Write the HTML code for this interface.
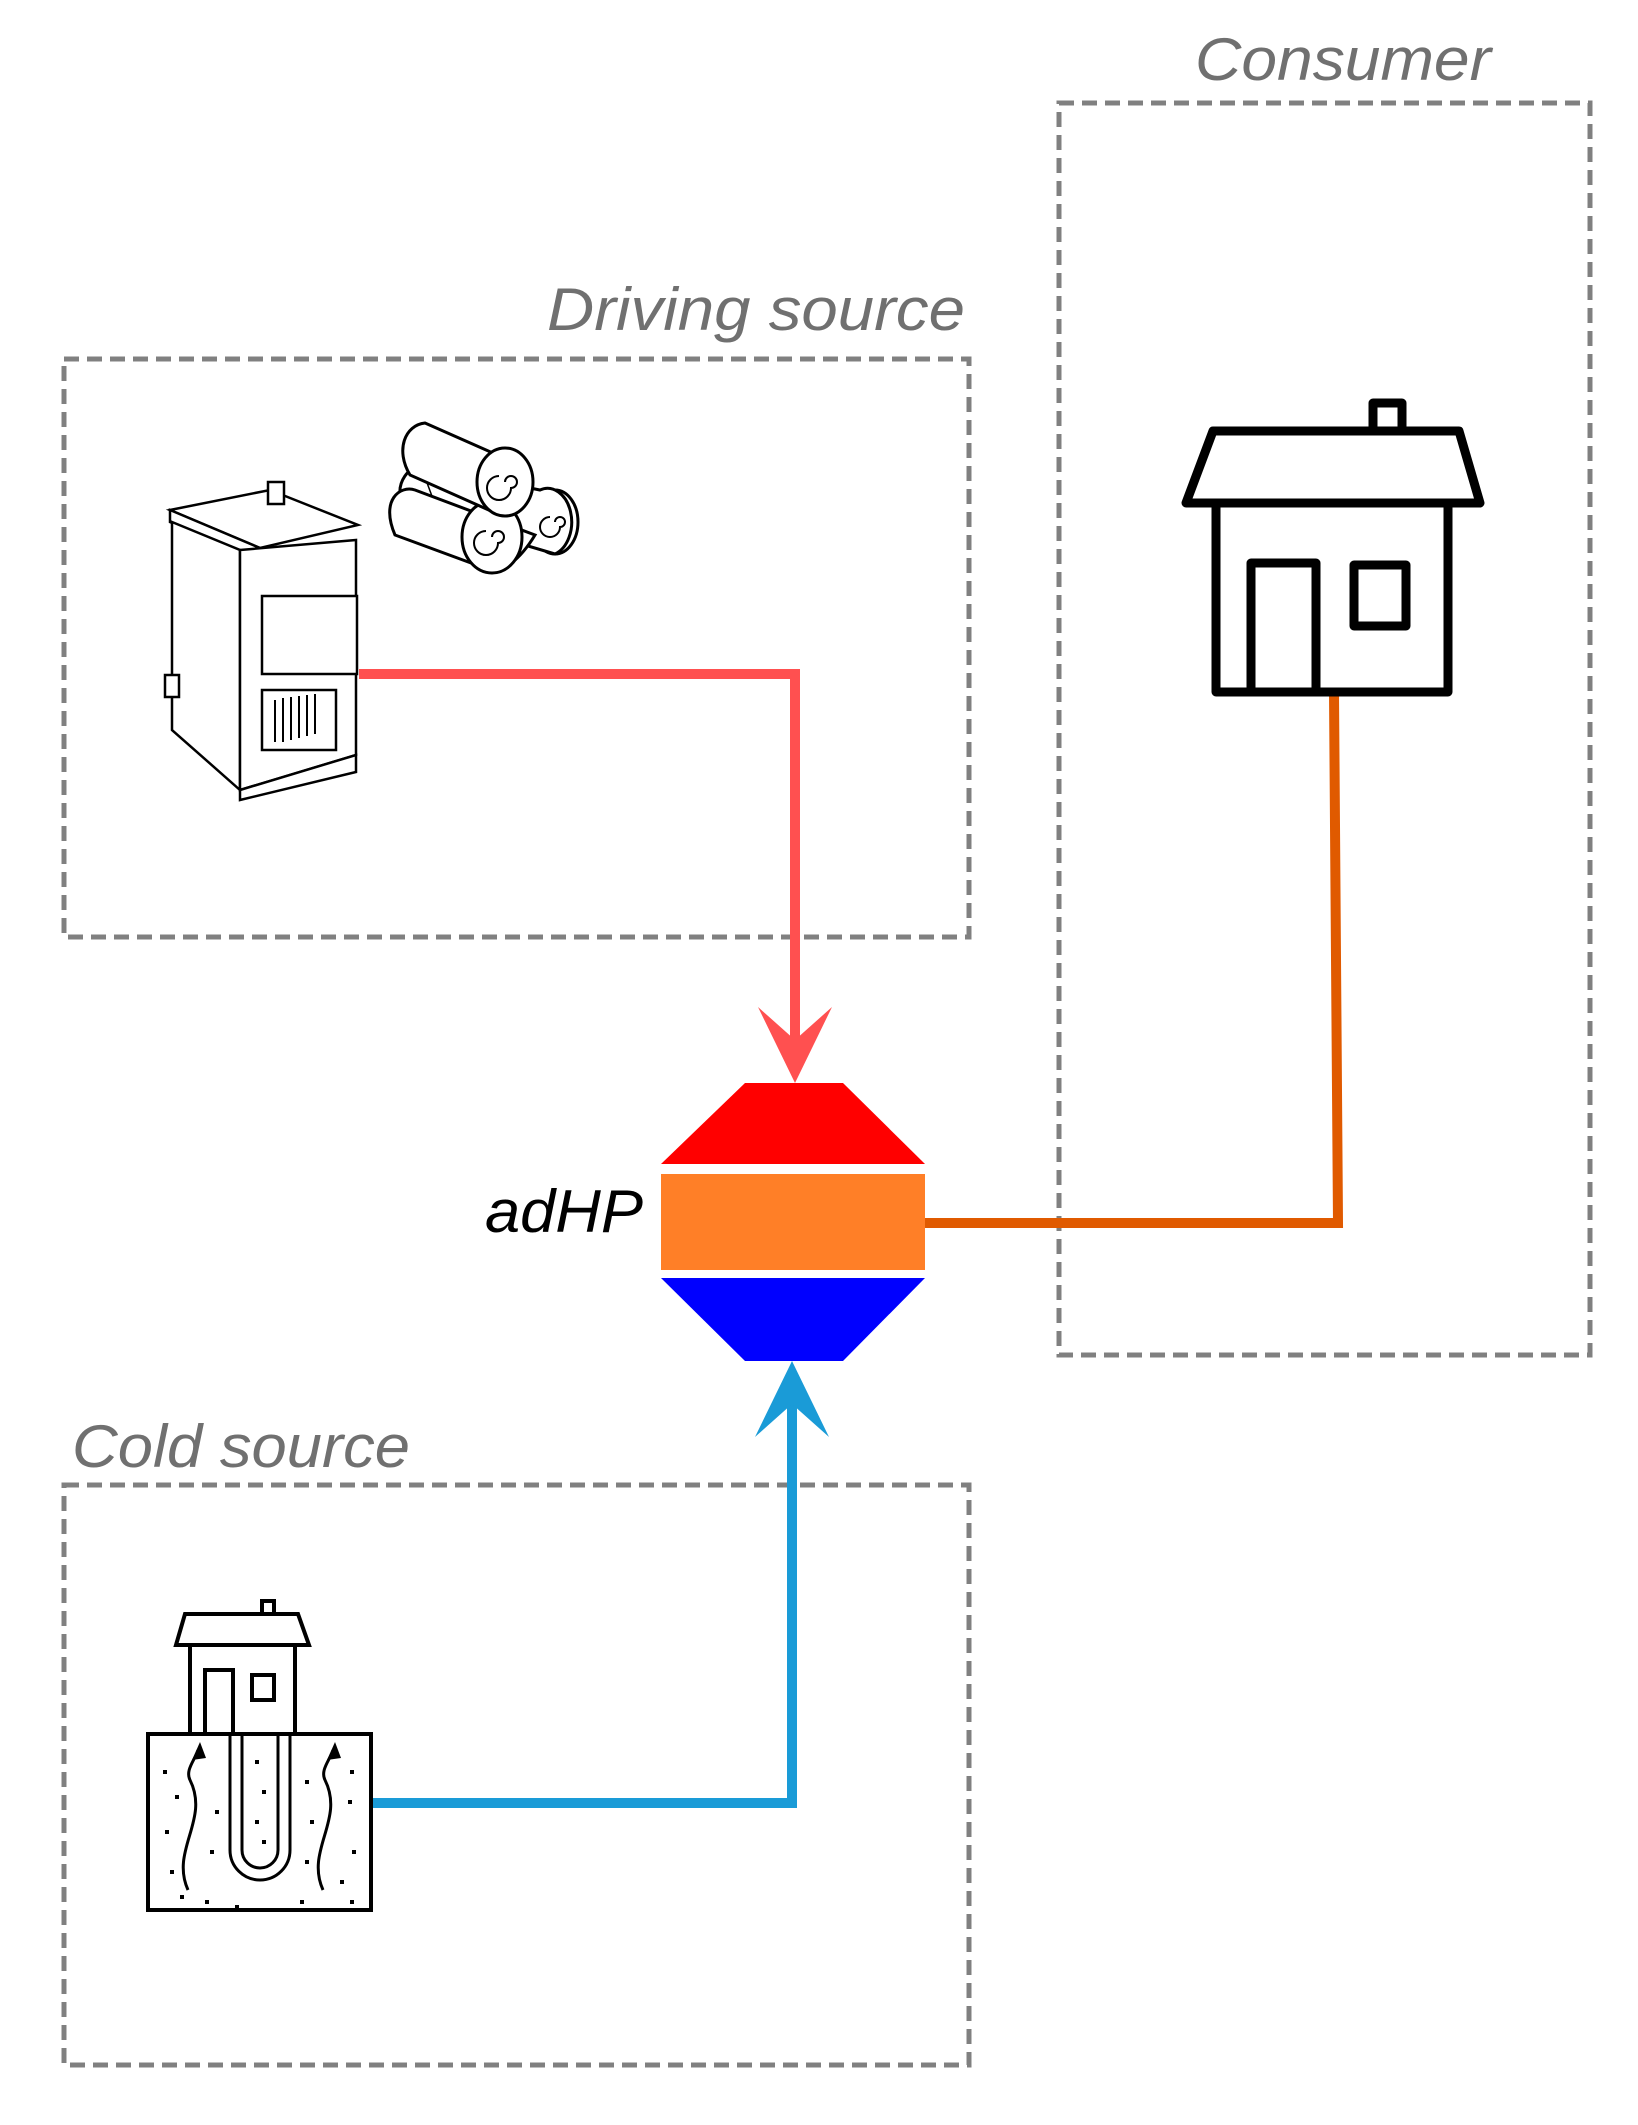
<!DOCTYPE html>
<html><head><meta charset="utf-8"><style>
html,body{margin:0;padding:0;background:#fff;}
</style></head><body>
<svg width="1638" height="2125" viewBox="0 0 1638 2125" xmlns="http://www.w3.org/2000/svg" style="display:block">
<g fill="none" stroke="#808080" stroke-width="5" stroke-dasharray="15,8">
<rect x="64" y="359" width="905" height="578"/>
<rect x="1059" y="103" width="531" height="1252"/>
<rect x="64" y="1485" width="905" height="580"/>
</g>
<g font-family="'Liberation Sans', 'DejaVu Sans', sans-serif" font-style="italic" fill="#707070" font-size="60">
<text x="1343" y="80" text-anchor="middle" textLength="296" lengthAdjust="spacingAndGlyphs">Consumer</text>
<text x="965" y="330" text-anchor="end" textLength="418" lengthAdjust="spacingAndGlyphs">Driving source</text>
<text x="72" y="1467" textLength="338" lengthAdjust="spacingAndGlyphs">Cold source</text>
</g>
<text x="485" y="1232" font-family="'Liberation Sans', sans-serif" font-style="italic" font-size="60" fill="#000" textLength="158" lengthAdjust="spacingAndGlyphs">adHP</text>
<polyline points="359,674 795,674 795,1040" fill="none" stroke="#ff5050" stroke-width="10"/>
<polygon points="795,1083 758,1007 795,1040 832,1007" fill="#ff5050"/>
<polyline points="925,1223 1338,1223 1334,693" fill="none" stroke="#e05a00" stroke-width="10"/>
<polyline points="372,1803 792,1803 792,1400" fill="none" stroke="#1a9bd7" stroke-width="10"/>
<polygon points="792,1361 755,1437 792,1404 829,1437" fill="#1a9bd7"/>
<polygon points="745,1083 843,1083 925,1164 661,1164" fill="#ff0000"/>
<rect x="661" y="1174" width="264" height="96" fill="#ff7f27"/>
<polygon points="661,1278 925,1278 843,1361 745,1361" fill="#0000ff"/>
<g fill="none" stroke="#000" stroke-width="9" stroke-linejoin="round">
<polygon points="1213,431 1459,431 1480,503 1186,503"/>
<rect x="1216" y="503" width="232" height="189"/>
<rect x="1251" y="563" width="65" height="129"/>
<rect x="1354" y="565" width="52" height="61"/>
<rect x="1373" y="403" width="29" height="28"/>
</g>
<g fill="#fff" stroke="#000" stroke-width="2.5">
<polygon points="170,510 270,490 358,525 260,548"/>
<polygon points="170,510 260,548 260,560 170,522"/>
<rect x="268" y="482" width="16" height="22"/>
<polygon points="172,522 240,550 240,790 172,730"/>
<polygon points="240,550 356,540 356,755 240,790"/>
<polygon points="240,790 356,755 356,772 240,800"/>
<rect x="262" y="596" width="95" height="78"/>
<rect x="262" y="690" width="74" height="60"/>
<rect x="165" y="675" width="14" height="22"/>
</g>
<g stroke="#000" stroke-width="2">
<line x1="275" y1="700" x2="275" y2="742"/><line x1="283" y1="698" x2="283" y2="742"/><line x1="291" y1="697" x2="291" y2="740"/><line x1="299" y1="696" x2="299" y2="738"/><line x1="307" y1="695" x2="307" y2="736"/><line x1="315" y1="694" x2="315" y2="734"/>
</g>
<g fill="#fff" stroke="#000" stroke-width="3">
<ellipse cx="555" cy="522" rx="23" ry="32"/>
<path d="M420,466 L540,490 A23,32 0 0 1 555,554 L440,520 Z"/>
<path d="M420,466 C395,470 385,520 440,520"/>
<path d="M415,490 L535,535 C520,560 500,575 490,570 L395,535 C380,500 400,485 415,490 Z"/>
<ellipse cx="492" cy="537" rx="30" ry="36"/>
<path d="M425,423 L520,465 C535,490 520,510 500,515 L410,475 C395,450 405,425 425,423 Z"/>
<ellipse cx="505" cy="482" rx="28" ry="34"/>
</g>
<g fill="none" stroke="#000" stroke-width="2">
<path d="M505,482 a6,6 0 1 1 6,6 a12,12 0 1 1 -12,-12"/>
<path d="M492,537 a6,6 0 1 1 6,6 a12,12 0 1 1 -12,-12"/>
<path d="M555,522 a5,5 0 1 1 5,5 a10,10 0 1 1 -10,-10"/>
</g>
<g fill="#fff" stroke="#000" stroke-width="4">
<rect x="148" y="1734" width="223" height="176"/>
<rect x="190" y="1645" width="105" height="89"/>
<polygon points="185,1614 298,1614 309,1645 176,1645"/>
<rect x="262" y="1601" width="12" height="13"/>
<rect x="205" y="1670" width="28" height="64"/>
<rect x="252" y="1675" width="22" height="25"/>
</g>
<g fill="none" stroke="#000" stroke-width="3">
<path d="M230,1734 L230,1850 A30,30 0 0 0 290,1850 L290,1734"/>
<path d="M242,1734 L242,1850 A18,18 0 0 0 278,1850 L278,1734"/>
<path d="M188,1890 C170,1850 210,1820 190,1780 C185,1770 195,1760 198,1750"/>
<path d="M323,1890 C305,1850 345,1820 325,1780 C320,1770 330,1760 333,1750"/>
</g>
<polygon points="200,1742 192,1760 206,1758" fill="#000"/>
<polygon points="335,1742 327,1760 341,1758" fill="#000"/>
<g fill="#000">
<rect x="163" y="1770" width="4" height="4"/><rect x="175" y="1795" width="4" height="4"/><rect x="165" y="1830" width="4" height="4"/><rect x="170" y="1870" width="4" height="4"/><rect x="180" y="1895" width="4" height="4"/><rect x="205" y="1900" width="4" height="4"/><rect x="215" y="1810" width="4" height="4"/><rect x="210" y="1850" width="4" height="4"/><rect x="255" y="1760" width="4" height="4"/><rect x="262" y="1790" width="4" height="4"/><rect x="255" y="1820" width="4" height="4"/><rect x="262" y="1840" width="4" height="4"/><rect x="305" y="1780" width="4" height="4"/><rect x="310" y="1820" width="4" height="4"/><rect x="305" y="1860" width="4" height="4"/><rect x="350" y="1770" width="4" height="4"/><rect x="348" y="1800" width="4" height="4"/><rect x="352" y="1850" width="4" height="4"/><rect x="340" y="1880" width="4" height="4"/><rect x="350" y="1900" width="4" height="4"/><rect x="300" y="1900" width="4" height="4"/><rect x="235" y="1905" width="4" height="4"/>
</g>
</svg>
</body></html>
